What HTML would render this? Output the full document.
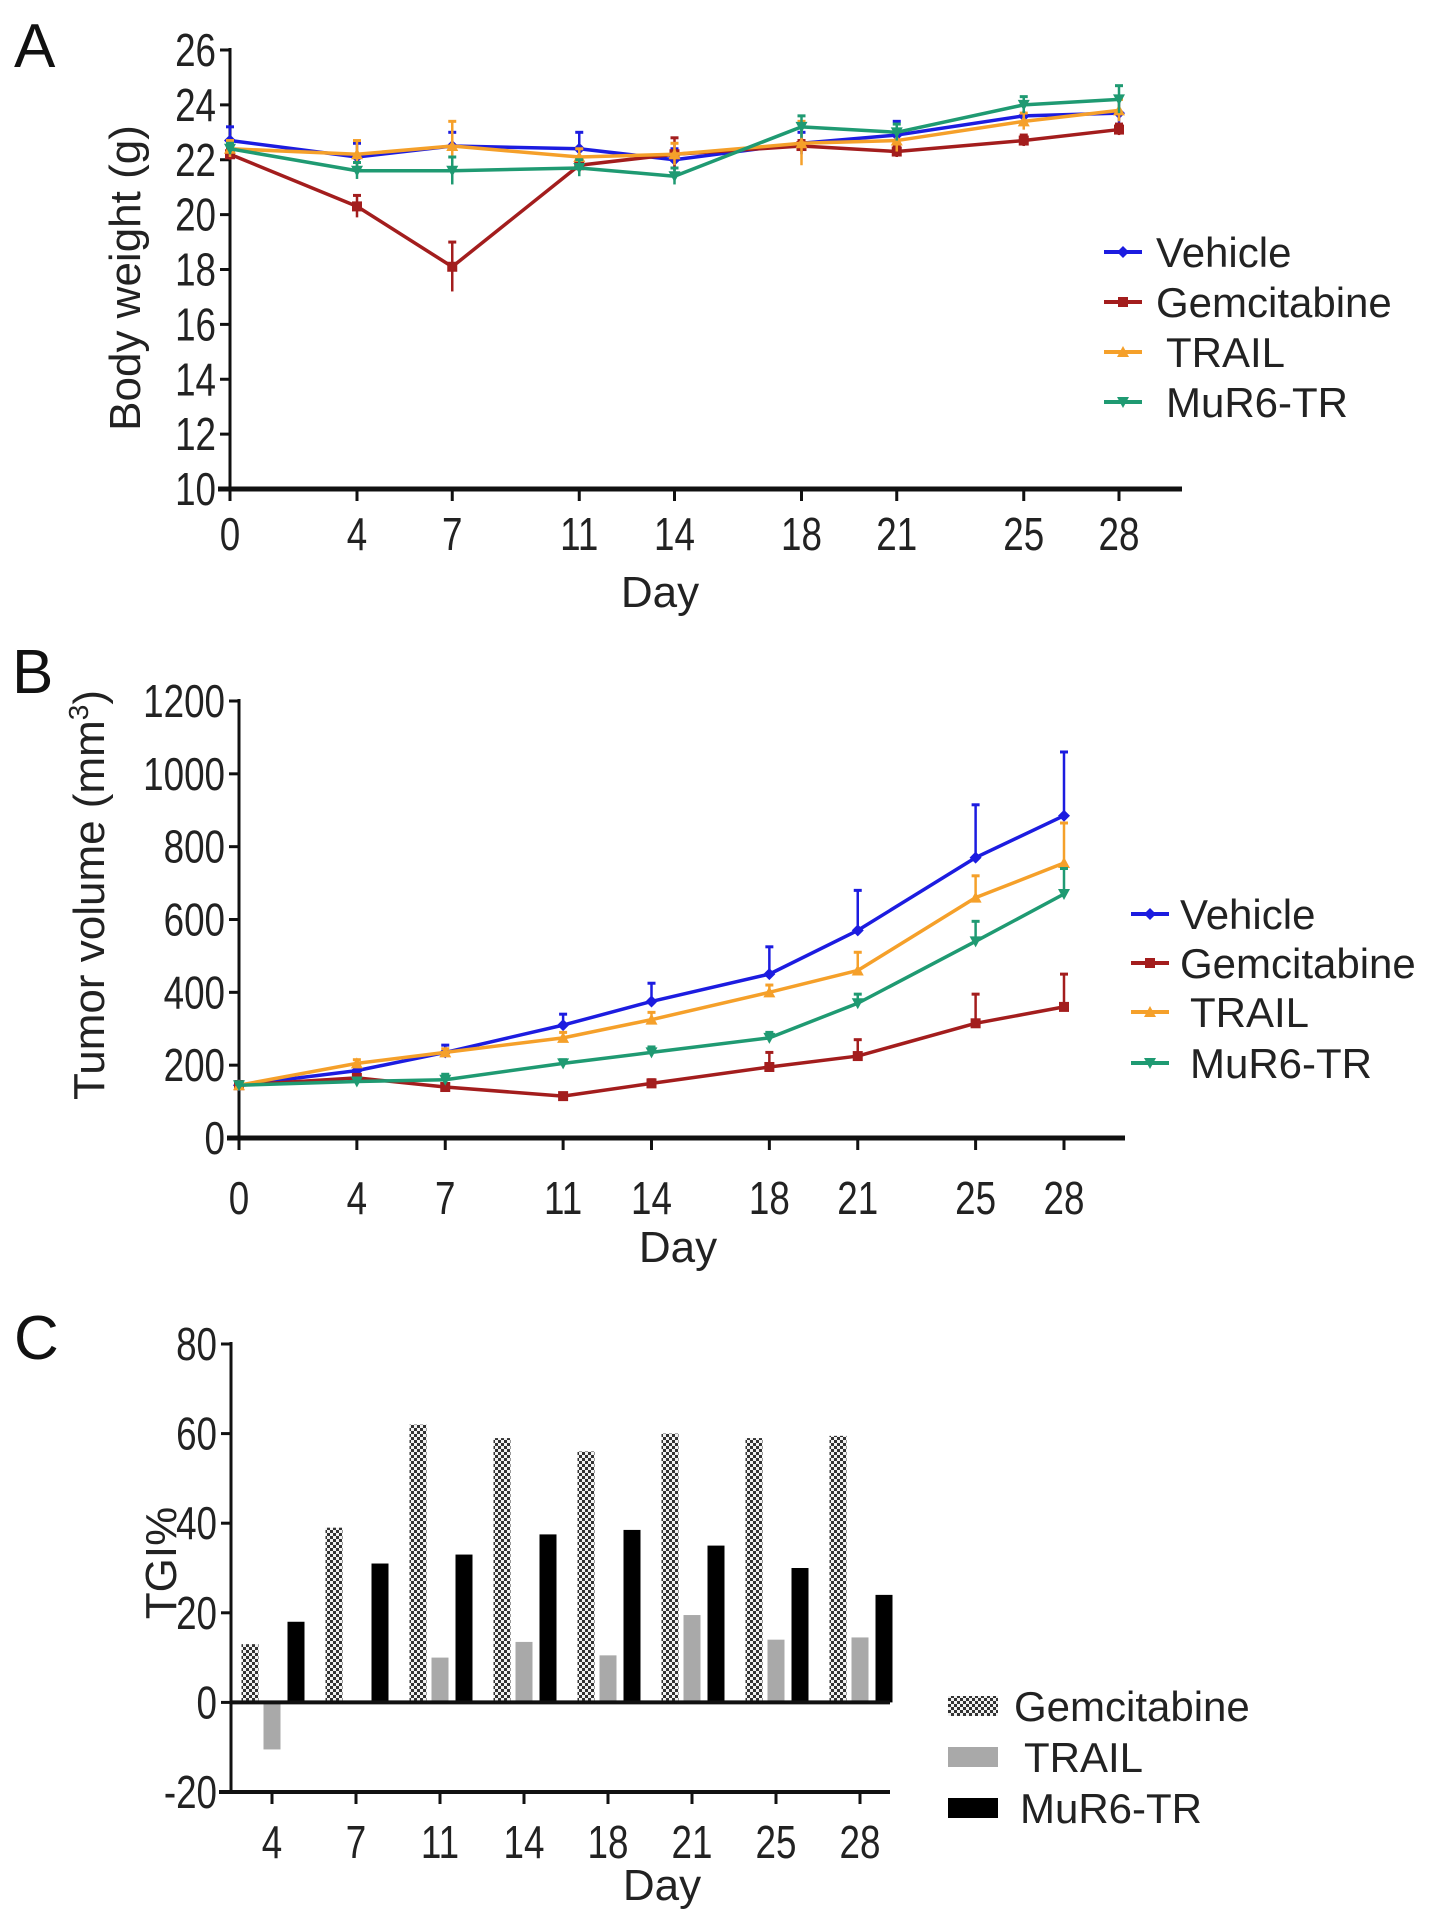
<!DOCTYPE html>
<html><head><meta charset="utf-8"><style>
html,body{margin:0;padding:0;background:#fff;}
svg{display:block;font-family:"Liberation Sans",Arial,sans-serif;}
</style></head><body>
<svg id="fig" width="1441" height="1925" viewBox="0 0 1441 1925" xmlns="http://www.w3.org/2000/svg">
<defs>
<pattern id="checker" width="6" height="6" patternUnits="userSpaceOnUse">
<rect width="6" height="6" fill="#f2f2f2"/><rect width="3" height="3" fill="#333"/><rect x="3" y="3" width="3" height="3" fill="#333"/>
</pattern>
</defs>
<text x="14" y="67" font-size="62" fill="#111">A</text>
<text x="12" y="693" font-size="62" fill="#111">B</text>
<text x="14" y="1359" font-size="62" fill="#111">C</text>
<g id="gA"></g>
<g id="gB"></g>
<g id="gC"></g>
</svg>
<script>
const days = [0,4,7,11,14,18,21,25,28];
const seriesNames = ["Vehicle","Gemcitabine","TRAIL","MuR6-TR"];
const seriesColors = ["#1c1ce0","#a31d1d","#f5a02a","#1f9a72"];
// Panel A body weight
const bwVehicle = [22.7,22.1,22.5,22.4,22.0,22.6,22.9,23.6,23.7];
const bwGem = [22.2,20.3,18.1,21.8,22.2,22.5,22.3,22.7,23.1];
const bwTrail = [22.4,22.2,22.5,22.1,22.2,22.6,22.7,23.4,23.8];
const bwMur = [22.4,21.6,21.6,21.7,21.4,23.2,23.0,24.0,24.2];
const bwErrVehicle = [0.5,0.5,0.5,0.6,0.4,0.4,0.5,0.5,0.6];
const bwErrGem = [0.2,0.4,0.9,0.3,0.6,0.2,0.2,0.2,0.2];
const bwErrTrail = [0.3,0.5,0.9,0.3,0.4,0.8,0.4,0.3,0.4];
const bwErrMur = [0.2,0.3,0.5,0.3,0.3,0.4,0.3,0.3,0.5];
const bwTicks = [10,12,14,16,18,20,22,24,26];
// Panel B tumor volume
const tvVehicle = [145,185,235,310,375,450,570,770,885];
const tvGem = [145,165,140,115,150,195,225,315,360];
const tvTrail = [145,205,235,275,325,400,460,660,755];
const tvMur = [145,155,160,205,235,275,370,540,670];
const tvErrVehicle = [10,15,20,30,50,75,110,145,175];
const tvErrGem = [10,5,5,5,10,40,45,80,90];
const tvErrTrail = [5,10,10,15,20,20,50,60,110];
const tvErrMur = [5,5,15,10,15,15,25,55,70];
const tvTicks = [0,200,400,600,800,1000,1200];
// Panel C TGI
const tgiDays = [4,7,11,14,18,21,25,28];
const tgiGem = [13,39,62,59,56,60,59,59.5];
const tgiTrail = [-10.5,0,10,13.5,10.5,19.5,14,14.5];
const tgiMur = [18,31,33,37.5,38.5,35,30,24];
const tgiTicks = [-20,0,20,40,60,80];

const NS="http://www.w3.org/2000/svg";
function mk(parent,tag,attrs,text){const e=document.createElementNS(NS,tag);for(const k in attrs)e.setAttribute(k,attrs[k]);if(text!==undefined)e.textContent=text;parent.appendChild(e);return e;}
function tick(parent,x,y,str,anchor,fs){
  return mk(parent,"text",{x:0,y:0,transform:`translate(${x},${y}) scale(0.8,1)`,"font-size":fs,"text-anchor":anchor,fill:"#222"},str);
}

function marker(g,type,x,y,c){
  const s=6;
  if(type===0) return mk(g,"polygon",{points:`${x},${y-s} ${x+s},${y} ${x},${y+s} ${x-s},${y}`,fill:c});
  if(type===1) return mk(g,"rect",{x:x-s+1,y:y-s+1,width:2*s-2,height:2*s-2,fill:c});
  if(type===2) return mk(g,"polygon",{points:`${x},${y-s} ${x+s},${y+s-1} ${x-s},${y+s-1}`,fill:c});
  return mk(g,"polygon",{points:`${x},${y+s} ${x+s},${y-s+1} ${x-s},${y-s+1}`,fill:c});
}

function lineChart(gid,cfg){
  const g=document.getElementById(gid);
  const X=d=>cfg.x0+(d-days[0])*(cfg.x28-cfg.x0)/28;
  const Y=v=>cfg.yb+(v-cfg.vmin)*(cfg.yt-cfg.yb)/(cfg.vmax-cfg.vmin);
  const ya=mk(g,"line",{x1:cfg.x0,y1:cfg.yt-2,x2:cfg.x0,y2:cfg.yb+12,stroke:"#111","stroke-width":3});
  
  
  const xa=mk(g,"line",{x1:cfg.x0-12,y1:cfg.yb,x2:cfg.xend,y2:cfg.yb,stroke:"#111","stroke-width":5});
  
  
  cfg.ticks.forEach(t=>{
    const y=Y(t);
    mk(g,"line",{x1:cfg.x0-10,y1:y,x2:cfg.x0,y2:y,stroke:"#111","stroke-width":3});
    const tl=tick(g,cfg.x0-14,y+16,String(t),"end",cfg.tfs);
    
    
  });
  days.forEach(d=>{
    const x=X(d);
    mk(g,"line",{x1:x,y1:cfg.yb,x2:x,y2:cfg.yb+12,stroke:"#111","stroke-width":3});
    const tl=tick(g,x,cfg.xly,String(d),"middle",cfg.tfs);
    
    
  });
  const xt=mk(g,"text",{x:cfg.dayX,y:cfg.dayY,"font-size":44,"text-anchor":"middle",fill:"#222"},"Day");
  
  
  const yt=mk(g,"text",{x:0,y:0,"font-size":cfg.ytfs,"text-anchor":"middle",fill:"#222",transform:`translate(${cfg.ytx},${cfg.yty}) rotate(-90)`});
  yt.innerHTML=cfg.ytitle;
  
  
  cfg.series.forEach((vals,i)=>{
    const c=seriesColors[i];
    const sg=mk(g,"g",{});
    
    
    vals.forEach((v,j)=>{
      const e=cfg.errs[i][j];const x=X(days[j]);
      const top=Y(v+e);
      mk(sg,"line",{x1:x,y1:Y(v),x2:x,y2:top,stroke:c,"stroke-width":2.5});
      mk(sg,"line",{x1:x-4,y1:top,x2:x+4,y2:top,stroke:c,"stroke-width":3});
      if(cfg.both){const b=Y(v-e);mk(sg,"line",{x1:x,y1:Y(v),x2:x,y2:b,stroke:c,"stroke-width":2.5});}
    });
    const pts=vals.map((v,j)=>X(days[j])+","+Y(v)).join(" ");
    const pl=mk(sg,"polyline",{points:pts,fill:"none",stroke:c,"stroke-width":3.5,"stroke-linejoin":"round"});
    
    
    vals.forEach((v,j)=>{
      const m=marker(sg,i,X(days[j]),Y(v),c);
      
      
    });
  });
  seriesNames.forEach((n,i)=>{
    const y=cfg.legY[i];const c=seriesColors[i];
    const lg=mk(g,"g",{});
    
    
    mk(lg,"line",{x1:cfg.legX-19,y1:y,x2:cfg.legX+19,y2:y,stroke:c,"stroke-width":4});
    marker(lg,i,cfg.legX,y,c);
    mk(lg,"text",{x:cfg.legTX+(i>=2?10:0),y:y+15,"font-size":42,fill:"#222"},n);
  });
}

lineChart("gA",{x0:230,x28:1119,xend:1182,yt:50,yb:489,vmin:10,vmax:26,ticks:bwTicks,
  series:[bwVehicle,bwGem,bwTrail,bwMur],errs:[bwErrVehicle,bwErrGem,bwErrTrail,bwErrMur],both:true,
  tfs:46,xly:550,dayX:660,dayY:607,ytx:140,yty:278,ytfs:44,ytitle:"Body weight (g)",
  legX:1123,legTX:1156,legY:[252,302,352,402]});
lineChart("gB",{x0:239,x28:1064,xend:1125,yt:701,yb:1138,vmin:0,vmax:1200,ticks:tvTicks,
  series:[tvVehicle,tvGem,tvTrail,tvMur],errs:[tvErrVehicle,tvErrGem,tvErrTrail,tvErrMur],both:false,
  tfs:46,xly:1214,dayX:678,dayY:1262,ytx:104,yty:895,ytfs:44,ytitle:'Tumor volume (mm<tspan font-size="28" dy="-16">3</tspan><tspan dy="16">)</tspan>',
  legX:1150,legTX:1180,legY:[914,963,1012,1063]});

(function(){
  const g=document.getElementById("gC");
  const x0=231,xt0=272,dx=84,yb=1792,vmin=-20,vmax=80,yt=1344,xend=890;
  const Y=v=>yb+(v-vmin)*(yt-yb)/(vmax-vmin);
  const X=i=>xt0+i*dx;
  const bw=17;
  const ya=mk(g,"line",{x1:x0,y1:yt-2,x2:x0,y2:yb,stroke:"#111","stroke-width":3});
  
  
  tgiTicks.forEach(t=>{
    const y=Y(t);
    mk(g,"line",{x1:x0-10,y1:y,x2:x0,y2:y,stroke:"#111","stroke-width":3});
    const tl=tick(g,x0-14,y+16,String(t),"end",46);
    
    
  });
  const fills=["url(#checker)","#a9a9a9","#000"];
  const sets=[tgiGem,tgiTrail,tgiMur];
  const offs=[-22,0,24];
  sets.forEach((vals,s)=>{
    vals.forEach((v,i)=>{
      if(v===0)return;
      const cx=X(i)+offs[s];
      const y1=Y(Math.max(v,0)),y2=Y(Math.min(v,0));
      const r=mk(g,"rect",{x:cx-bw/2,y:y1,width:bw,height:y2-y1,fill:fills[s]});
      
      
    });
  });
  const z=mk(g,"line",{x1:x0,y1:Y(0),x2:xend,y2:Y(0),stroke:"#111","stroke-width":4});
  
  
  const xa=mk(g,"line",{x1:x0-12,y1:yb,x2:xend,y2:yb,stroke:"#111","stroke-width":4});
  
  
  tgiDays.forEach((d,i)=>{
    mk(g,"line",{x1:X(i),y1:yb,x2:X(i),y2:yb+12,stroke:"#111","stroke-width":3});
    const tl=tick(g,X(i),1858,String(d),"middle",46);
    
    
  });
  const xt=mk(g,"text",{x:662,y:1900,"font-size":44,"text-anchor":"middle",fill:"#222"},"Day");
  
  
  const yt2=mk(g,"text",{x:0,y:0,"font-size":44,"text-anchor":"middle",fill:"#222",transform:"translate(176,1563) rotate(-90)"},"TGI%");
  
  
  const ln=["Gemcitabine","TRAIL","MuR6-TR"],ly=[1706,1757,1808],ltx=[1014,1024,1020];
  ln.forEach((n,i)=>{
    const lg=mk(g,"g",{});
    
    
    mk(lg,"rect",{x:948,y:ly[i]-10,width:50,height:20,fill:fills[i]});
    mk(lg,"text",{x:ltx[i],y:ly[i]+15,"font-size":42,fill:"#222"},n);
  });
})();
</script>
</body></html>
